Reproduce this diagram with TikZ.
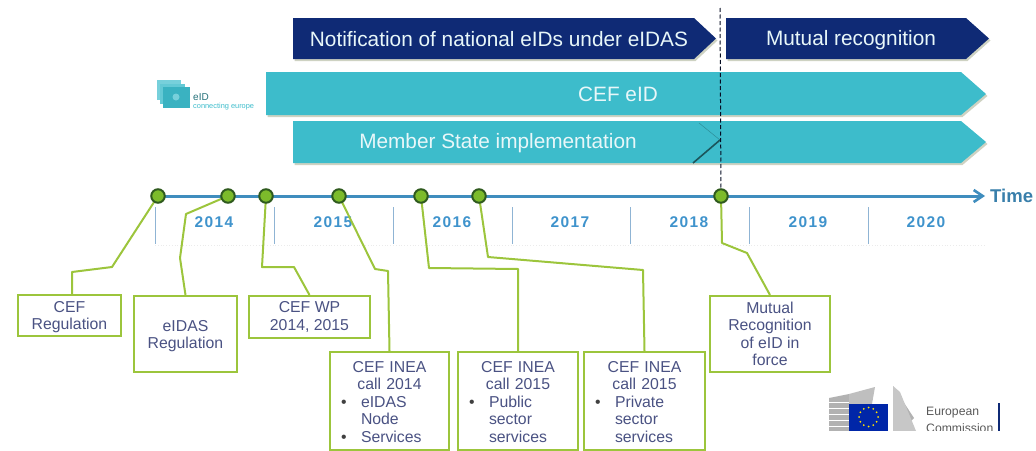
\documentclass[tikz,border=0pt]{standalone}
\usepackage{fontspec}
\setmainfont{Liberation Sans}
\newfontfamily\yearfont[LetterSpace=9]{Liberation Sans}
\usetikzlibrary{arrows.meta,calc}
\definecolor{navy}{HTML}{0F2A75}
\definecolor{teal1}{HTML}{3DBCCB}
\definecolor{boxgreen}{HTML}{9CC53C}
\definecolor{dotfill}{HTML}{7CBB2B}
\definecolor{dotline}{HTML}{2F5A1E}
\definecolor{axisblue}{HTML}{3F8DBE}
\definecolor{tickblue}{HTML}{8FB4D4}
\definecolor{yearblue}{HTML}{3F93CC}
\definecolor{boxtext}{HTML}{4A5283}
\definecolor{shadowc}{HTML}{B9BFA8}
\newcommand{\sz}[2]{\fontsize{#1}{#2}\selectfont}
\newcommand{\bul}[1]{\makebox[31pt][l]{\hspace{11pt}\textcolor{black!75}{\textbullet}}#1}
\newcommand{\cont}[1]{\makebox[31pt][l]{}#1}
\tikzset{
  x=1pt,y=-1pt,
  barshadow/.style={preaction={fill=shadowc,draw=none,opacity=.7,transform canvas={shift={(1.5pt,-2pt)}}}},
  navybar/.style={barshadow,fill=navy},
  tealbar/.style={barshadow,fill=teal1},
  bartext/.style={text=white!88!teal1,inner sep=0pt,font=\sz{20.8}{24}},
  boxnode/.style={draw=boxgreen,line width=2pt,fill=white,anchor=north west,inner sep=0pt,
    text=boxtext,font=\sz{15.8}{17.5},align=center},
  listbox/.style={boxnode,align=left},
  conn/.style={draw=boxgreen,line width=2pt,line join=round},
  dotnode/.style={circle,draw=dotline,fill=dotfill,line width=2pt,minimum size=13.5pt,inner sep=0pt},
  yearlabel/.style={text=yearblue,inner sep=0pt,font=\yearfont\bfseries\sz{15.5}{18}},
  tick/.style={draw=tickblue,line width=1pt},
}
\begin{document}
\begin{tikzpicture}
\useasboundingbox (0,0) rectangle (1036,450);
% bars
\path[navybar] (293,18) -- (694,18) -- (716,38.5) -- (694,59) -- (293,59) -- cycle;
\path[navybar] (726,18) -- (966,18) -- (989,38.5) -- (966,59) -- (726,59) -- cycle;
\path[tealbar] (266,72) -- (961,72) -- (986,94) -- (961,115) -- (266,115) -- cycle;
\path[tealbar] (293,121) -- (961,121) -- (986,142) -- (961,163) -- (293,163) -- cycle;
\draw[draw=teal1!75!black,line width=.5pt] (699,123) -- (720,140);
\draw[draw=teal1!45!black,line width=1.6pt] (693,163) -- (720,140);
\node[bartext] (t1) at (499,39) {Notification of national eIDs under eIDAS};
\node[bartext] (t2) at (851,40) {Mutual recognition};
\node[bartext] (t3) at (618,94) {CEF eID};
\node[bartext] (t4) at (498,143) {Member State implementation};
% dashed marker
\coordinate (dashtop) at (720,8);
% year grid
\draw[black!8,dotted,line width=.8pt] (155,245) -- (985,245);
\foreach \x in {155,274,393,512,630,749,868}{\draw[tick] (\x,207) -- (\x,244);}
\node[yearlabel] (y14) at (214,222) {2014};
\node[yearlabel] (y15) at (333,222) {2015};
\node[yearlabel] (y16) at (452,222) {2016};
\node[yearlabel] (y17) at (570,222) {2017};
\node[yearlabel] (y18) at (689,222) {2018};
\node[yearlabel] (y19) at (808,222) {2019};
\node[yearlabel] (y20) at (926,222) {2020};
% boxes
\node[boxnode,minimum width=103pt,minimum height=41pt] (b1) at (17,294) {\rule{0pt}{14.5pt}CEF\\Regulation};
\node[boxnode,minimum width=103pt,minimum height=76pt] (b2) at (133,295) {\rule{0pt}{15.5pt}eIDAS\\Regulation};
\node[boxnode,minimum width=121pt,minimum height=42pt] (b3) at (248,295) {CEF WP\\2014, 2015};
\node[listbox,minimum width=119pt,minimum height=98pt,text width=119pt] (b4) at (329,351)
  {\rule{0pt}{12.5pt}\makebox[119pt][c]{CEF INEA}\\\makebox[119pt][c]{call 2014}\\\bul{eIDAS}\\\cont{Node}\\\bul{Services}};
\node[listbox,minimum width=120pt,minimum height=98pt,text width=120pt] (b5) at (457,351)
  {\rule{0pt}{12.5pt}\makebox[120pt][c]{CEF INEA}\\\makebox[120pt][c]{call 2015}\\\bul{Public}\\\cont{sector}\\\cont{services}};
\node[listbox,minimum width=121pt,minimum height=98pt,text width=121pt] (b6) at (583,351)
  {\rule{0pt}{12.5pt}\makebox[121pt][c]{CEF INEA}\\\makebox[121pt][c]{call 2015}\\\bul{Private}\\\cont{sector}\\\cont{services}};
\node[boxnode,minimum width=120pt,minimum height=76pt] (b7) at (709,295) {Mutual\\Recognition\\of eID in\\force};
% axis
\coordinate (axstart) at (157,196);
\coordinate (axend) at (985,196);
\draw[axisblue,line width=3pt,-{Straight Barb[length=9pt,width=12pt,line width=2.6pt]}] (axstart) -- (axend);
\node[inner sep=0pt,anchor=west,text=axisblue!90!black,font=\bfseries\sz{18.5}{20}] (time) at (990,196) {Time};
% dots positions
\coordinate (c1) at (158,196);
\coordinate (c2) at (228,196);
\coordinate (c3) at (266,196);
\coordinate (c4) at (339,196);
\coordinate (c5) at (421,196);
\coordinate (c6) at (479,196);
\coordinate (c7) at (721,196);
% connectors
\draw[conn] (c1) -- (112,267) -- (72,272) -- ([xshift=2.5pt]b1.north);
\draw[conn] (c2) -- (186,214) -- (180,258) -- (b2.north);
\draw[conn] (c3) -- (262,267) -- (294,267) -- (b3.north);
\draw[conn] (c4) -- (375,269) -- (388,271) -- (b4.north);
\draw[conn] (c5) -- (429,268) -- (518,269) -- (b5.north);
\draw[conn] (c6) -- (488,257) -- (643,270) -- (b6.north);
\draw[conn] (c7) -- (722,243) -- (747,253) -- (b7.north);
% dots
\node[dotnode] (d1) at (c1) {};
\node[dotnode] (d2) at (c2) {};
\node[dotnode] (d3) at (c3) {};
\node[dotnode] (d4) at (c4) {};
\node[dotnode] (d5) at (c5) {};
\node[dotnode] (d6) at (c6) {};
\node[dotnode] (d7) at (c7) {};
\draw[black!70!navy,dashed,dash pattern=on 4pt off 2.5pt,line width=1pt] (dashtop) -- (d7);
% eID logo
\fill[teal1!70] (157,80) rectangle (181,100);
\fill[teal1!80] (160,84) rectangle (185,104);
\fill[teal1!95!black] (163,87) rectangle (190,108);
\fill[teal1!70] (176,97) circle (3.5);
\node[inner sep=0pt,anchor=west,text=teal1!60!black,font=\sz{10}{10}] (eidl) at (193,97) {eID};
\node[inner sep=0pt,anchor=west,text=teal1,font=\sz{7.4}{8}] (eidc) at (193,106.5) {connecting europe};
% EC logo
\begin{scope}
\clip (829,380) rectangle (1001,430.5);
\fill[black!30] (829,398) -- (849,394) -- (849,431) -- (829,431) -- cycle;
\foreach \yy in {402,408,414,420,426}{\draw[white,line width=1pt] (829,\yy) -- (849,\yy);}
\fill[black!25] (849,394) -- (875,387) -- (872,404) -- (849,404) -- cycle;
\fill[black!30] (893,386) -- (914,418) -- (902,431) -- (893,431) -- cycle;
\fill[black!22] (893,386) -- (900,392) -- (916,431) -- (893,431) -- cycle;
\fill[blue!60!black!85!cyan] (849,404) rectangle (888,431);
\foreach \a in {0,30,...,330}{\fill[yellow!85!orange] ($(868.5,417)+(\a:9.5)$) circle (1);}
\node[inner sep=0pt,anchor=west,text=black!65,font=\sz{12.2}{13}] (ec1) at (926,413) {European};
\node[inner sep=0pt,anchor=west,text=black!65,font=\sz{12.2}{13}] (ec2) at (926,428) {Commission};
\fill[navy] (998,403) rectangle (1000,431);
\end{scope}
\end{tikzpicture}
\end{document}
